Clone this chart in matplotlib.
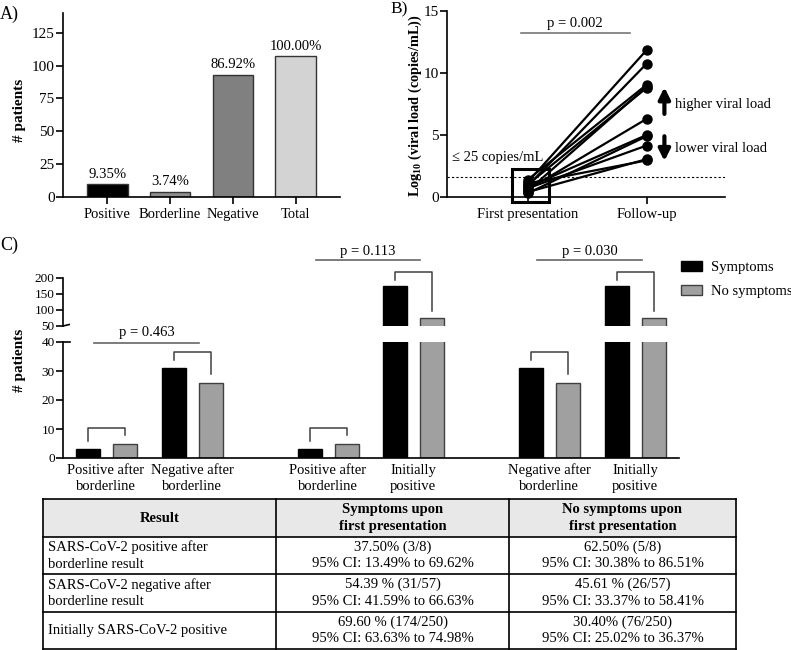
import matplotlib
matplotlib.use('Agg')
import matplotlib.pyplot as plt
import numpy as np
from matplotlib.patches import Patch, Rectangle

plt.rcParams['font.family'] = ['Liberation Serif', 'DejaVu Serif']
plt.rcParams['mathtext.fontset'] = 'custom'
plt.rcParams['mathtext.rm'] = 'Liberation Serif'
plt.rcParams['mathtext.bf'] = 'Liberation Serif:bold'
plt.rcParams['axes.linewidth'] = 1.2

# ---- data ----
# panel A
a_cats = ['Positive', 'Borderline', 'Negative', 'Total']
a_counts = [10, 4, 93, 107]
a_pct = ['9.35%', '3.74%', '86.92%', '100.00%']
a_colors = ['#000000', '#8e8e8e', '#808080', '#d3d3d3']

# panel B (log10 viral load)
b_first = [1.2, 0.9, 1.4, 0.5, 1.0, 0.6, 0.8, 0.3, 0.7, 0.4, 1.1]
b_follow = [11.85, 10.75, 9.05, 8.9, 8.8, 6.3, 5.0, 4.9, 4.15, 3.05, 2.95]
b_cats = ['First presentation', 'Follow-up']

# panel C
c_cats = ['Positive after\nborderline', 'Negative after\nborderline',
          'Positive after\nborderline', 'Initially\npositive',
          'Negative after\nborderline', 'Initially\npositive']
c_symptoms = [3, 31, 3, 174, 31, 174]
c_nosymptoms = [5, 26, 5, 76, 26, 76]
c_pvals = ['p = 0.463', 'p = 0.113', 'p = 0.030']

# table
t_header = ['Result', 'Symptoms upon\nfirst presentation', 'No symptoms upon\nfirst presentation']
t_rows = ['SARS-CoV-2 positive after\nborderline result',
          'SARS-CoV-2 negative after\nborderline result',
          'Initially SARS-CoV-2 positive']
t_symptoms = ['37.50% (3/8)\n95% CI: 13.49% to 69.62%',
              '54.39 % (31/57)\n95% CI: 41.59% to 66.63%',
              '69.60 % (174/250)\n95% CI: 63.63% to 74.98%']
t_nosymptoms = ['62.50% (5/8)\n95% CI: 30.38% to 86.51%',
                '45.61 % (26/57)\n95% CI: 33.37% to 58.41%',
                '30.40% (76/250)\n95% CI: 25.02% to 36.37%']

W, H = 791, 650
fig = plt.figure(figsize=(W / 100, H / 100), dpi=100)


def box(x0, y0, x1, y1):
    # pixel box (top-left origin) -> figure fraction rect
    return [x0 / W, 1 - y1 / H, (x1 - x0) / W, (y1 - y0) / H]


def style(ax, ysize=9.5):
    ax.spines['top'].set_visible(False)
    ax.spines['right'].set_visible(False)
    ax.tick_params(axis='y', labelsize=ysize, length=5, width=1.2, pad=1)
    ax.tick_params(axis='x', labelsize=10.5, length=5, width=1.2, pad=3)


# ---- panel A ----
axA = fig.add_axes(box(63, 13, 340, 197))
style(axA, 11)
xa = np.arange(len(a_cats))
axA.bar(xa, a_counts, width=0.65, color=a_colors, edgecolor='#333333', linewidth=1)
for x, v, t in zip(xa, a_counts, a_pct):
    axA.text(x, v + 2.5, t, ha='center', va='bottom', fontsize=10.5)
axA.set_xlim(-0.7, 3.7)
axA.set_ylim(0, 140)
axA.set_yticks([0, 25, 50, 75, 100, 125])
axA.set_xticks(xa)
axA.set_xticklabels(a_cats)

# ---- panel B ----
axB = fig.add_axes(box(447, 11, 725, 197))
style(axB, 11)
for f0, f1 in zip(b_first, b_follow):
    axB.plot([0, 1], [f0, f1], color='black', lw=1.6, marker='o', ms=6.5,
             clip_on=False, zorder=3)
axB.axhline(1.6, color='black', lw=0.8, ls=(0, (2, 2)))
axB.set_xlim(-0.68, 1.66)
axB.set_ylim(0, 15)
axB.set_yticks([0, 5, 10, 15])
axB.set_xticks([0, 1])
axB.set_xticklabels(b_cats)
axB.add_patch(Rectangle((-0.13, -0.4), 0.31, 2.65, fill=False, lw=2.2,
                        ec='black', clip_on=False, zorder=4))
axB.text(-0.64, 3.2, '\u2264 25 copies/mL', fontsize=10.5, va='center')
axB.plot([-0.06, 0.86], [13.2, 13.2], color='#777777', lw=1.2, clip_on=False)
axB.text(0.40, 13.5, 'p = 0.002', ha='center', va='bottom', fontsize=10.5)
arrow = dict(arrowstyle='-|>', lw=3, color='black', mutation_scale=17,
             shrinkA=0, shrinkB=0)
axB.annotate('', xy=(1.15, 8.85), xytext=(1.15, 6.7), arrowprops=arrow)
axB.annotate('', xy=(1.15, 2.9), xytext=(1.15, 4.9), arrowprops=arrow)
axB.text(1.235, 7.45, 'higher viral load', fontsize=10.5, va='center')
axB.text(1.235, 3.95, 'lower viral load', fontsize=10.5, va='center')

# ---- panel C (broken axis) ----
c_pos = np.array([0, 1, 2.58, 3.57, 5.15, 6.15])
off_s, off_n, bw = -0.21, 0.22, 0.28
grey = '#a0a0a0'
axL = fig.add_axes(box(63, 342, 679, 458))
axU = fig.add_axes(box(63, 278, 679, 326))
style(axL)
style(axU)
for ax in (axL, axU):
    ax.bar(c_pos + off_s, c_symptoms, width=bw, color='black', edgecolor='black', lw=1)
    ax.bar(c_pos + off_n, c_nosymptoms, width=bw, color=grey, edgecolor='#404040', lw=1)
    ax.set_xlim(-0.5, 6.66)
axL.set_ylim(0, 40)
axL.set_yticks([0, 10, 20, 30, 40])
axL.set_xticks(c_pos)
axL.set_xticklabels(c_cats, linespacing=1.3)
axL.tick_params(axis='x', length=0, pad=4)
axU.set_ylim(50, 200)
axU.set_yticks([50, 100, 150, 200])
axU.spines['bottom'].set_visible(False)
axU.set_xticks([])
# break marks
axL.plot([0, 0.012], [1, 1], transform=axL.transAxes, color='black', lw=1.2, clip_on=False)
axU.plot([0, 0.01], [0, 0.03], transform=axU.transAxes, color='black', lw=1.2, clip_on=False)

# brackets between symptoms / no symptoms
brk = '#404040'
for x, s, n in zip(c_pos, c_symptoms, c_nosymptoms):
    if max(s, n) <= 40:
        ax, top, gap = axL, max(s, n) + 5.5, 2.8
    else:
        ax, top, gap = axU, max(s, n) + 45, 20
    ax.plot([x + off_s, x + off_s, x + off_n, x + off_n],
            [s + gap, top, top, n + gap], color=brk, lw=1.1, clip_on=False)

# p-value lines between group pairs
for i, p in enumerate(c_pvals):
    x0, x1 = c_pos[2 * i] - 0.14, c_pos[2 * i + 1] + 0.08
    big = max(c_symptoms[2 * i:2 * i + 2]) > 40
    ax, y, dy = (axU, 256, 5) if big else (axL, 39.7, 1.2)
    ax.plot([x0, x1], [y, y], color='#666666', lw=1.2, clip_on=False)
    ax.text((x0 + x1) / 2, y + dy, p, ha='center', va='bottom', fontsize=10.5)

fig.legend([Patch(fc='black', ec='black'), Patch(fc=grey, ec='#404040')],
           ['Symptoms', 'No symptoms'], loc='upper left', frameon=False,
           bbox_to_anchor=(681 / W, 1 - 261 / H), fontsize=10.5,
           borderpad=0, borderaxespad=0,
           handlelength=1.45, handleheight=0.65, labelspacing=0.75, handletextpad=0.6)

# ---- labels ----
fig.text(0 / W, 1 - 14 / H, 'A)', fontsize=13, va='center')
fig.text(390 / W, 1 - 9 / H, 'B)', fontsize=12.5, va='center')
fig.text(0 / W, 1 - 245 / H, 'C)', fontsize=13, va='center')
fig.text(20 / W, 1 - 110 / H, '# patients', rotation=90, fontsize=11,
         fontweight='bold', ha='center', va='center')
fig.text(20 / W, 1 - 360 / H, '# patients', rotation=90, fontsize=11,
         fontweight='bold', ha='center', va='center')
fig.text(415 / W, 1 - 106 / H, r'Log$_{\mathbf{10}}$ (viral load (copies/mL))',
         rotation=90, fontsize=10.3, fontweight='bold', ha='center', va='center')

# ---- table ----
tab = fig.add_axes([0, 0, 1, 1])
tab.set_xlim(0, W)
tab.set_ylim(H, 0)
tab.axis('off')
col_x = [43, 276, 509, 736]
row_y = [499, 537, 574, 612, 649]
tab.add_patch(Rectangle((col_x[0], row_y[0]), col_x[-1] - col_x[0], row_y[1] - row_y[0],
                        fc='#e8e8e8', ec='none'))
for y in row_y:
    tab.plot([col_x[0], col_x[-1]], [y, y], color='black', lw=1.2)
for x in col_x:
    tab.plot([x, x], [row_y[0], row_y[-1]], color='black', lw=1.2)
for j, h in enumerate(t_header):
    tab.text((col_x[j] + col_x[j + 1]) / 2, (row_y[0] + row_y[1]) / 2, h,
             ha='center', va='center', fontsize=10.5, fontweight='bold', linespacing=1.35)
for i in range(len(t_rows)):
    yc = (row_y[i + 1] + row_y[i + 2]) / 2
    tab.text(col_x[0] + 5, yc, t_rows[i], ha='left', va='center', fontsize=10.5, linespacing=1.35)
    tab.text((col_x[1] + col_x[2]) / 2, yc, t_symptoms[i], ha='center', va='center',
             fontsize=10.5, linespacing=1.35)
    tab.text((col_x[2] + col_x[3]) / 2, yc, t_nosymptoms[i], ha='center', va='center',
             fontsize=10.5, linespacing=1.35)

fig.savefig('out.png', dpi=100)
